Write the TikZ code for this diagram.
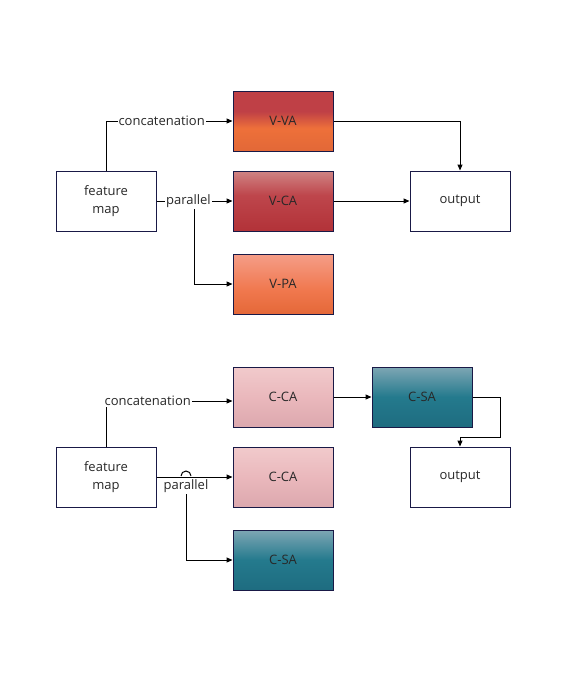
\documentclass[tikz,border=0pt]{standalone}
\usepackage{fontspec}
\setmainfont{Open Sans}
\usetikzlibrary{arrows.meta}
\definecolor{edge}{RGB}{25,25,70}
\definecolor{ink}{RGB}{40,40,40}
\definecolor{vvaT}{RGB}{191,64,70}
\definecolor{vvaM}{RGB}{238,112,58}
\definecolor{vvaB}{RGB}{226,104,55}
\definecolor{vcaT}{RGB}{208,132,132}
\definecolor{vcaM}{RGB}{190,70,76}
\definecolor{vcaB}{RGB}{178,50,56}
\definecolor{vpaT}{RGB}{245,157,136}
\definecolor{vpaM}{RGB}{240,120,78}
\definecolor{vpaB}{RGB}{228,104,56}
\definecolor{ccaT}{RGB}{241,202,204}
\definecolor{ccaM}{RGB}{234,184,188}
\definecolor{ccaB}{RGB}{220,168,174}
\definecolor{csaT}{RGB}{126,166,180}
\definecolor{csaM}{RGB}{36,122,141}
\definecolor{csaB}{RGB}{30,108,128}
\pgfdeclareverticalshading{vvashade}{100bp}{color(0bp)=(vvaB); color(25bp)=(vvaB); color(44bp)=(vvaM); color(58bp)=(vvaT); color(75bp)=(vvaT); color(100bp)=(vvaT)}
\pgfdeclareverticalshading{vcashade}{100bp}{color(0bp)=(vcaB); color(25bp)=(vcaB); color(55bp)=(vcaM); color(75bp)=(vcaT); color(100bp)=(vcaT)}
\pgfdeclareverticalshading{vpashade}{100bp}{color(0bp)=(vpaB); color(25bp)=(vpaB); color(45bp)=(vpaM); color(75bp)=(vpaT); color(100bp)=(vpaT)}
\pgfdeclareverticalshading{ccashade}{100bp}{color(0bp)=(ccaB); color(25bp)=(ccaB); color(50bp)=(ccaM); color(75bp)=(ccaT); color(100bp)=(ccaT)}
\pgfdeclareverticalshading{csashade}{100bp}{color(0bp)=(csaB); color(25bp)=(csaB); color(50bp)=(csaM); color(75bp)=(csaT); color(100bp)=(csaT)}

\begin{document}
\begin{tikzpicture}[x=1pt,y=-1pt,line width=1pt,
  font=\fontsize{13}{15}\selectfont,text=ink,
  box/.style={draw=edge,minimum width=100pt,minimum height=60pt,inner sep=0pt,align=center},
  lbl/.style={fill=white,inner sep=1pt},
  arr/.style={-{Triangle[length=6pt,width=5pt]}}]
\useasboundingbox (0,0) rectangle (567,680);
% upper block
\node[box] (fm1) at (106,201) {feature\\[3pt]map};
\node[box,shading=vvashade] (vva) at (283,121) {V-VA};
\node[box,shading=vcashade] (vca) at (283,201) {V-CA};
\node[box,shading=vpashade] (vpa) at (283,284) {V-PA};
\node[box] (out1) at (460,201) {output};
\coordinate (br1) at (194,201);
\draw[arr] (br1) |- (vpa.west);
\draw[arr] (fm1.north) |- node[lbl,pos=0.72] {concatenation} (vva.west);
\draw[arr] (fm1.east) -- node[lbl,pos=0.42] {parallel} (vca.west);
\draw[arr] (vva.east) -| (out1.north);
\draw[arr] (vca.east) -- (out1.west);
% lower block
\node[box] (fm2) at (106,477) {feature\\[3pt]map};
\node[box,shading=ccashade] (cca1) at (283,397) {C-CA};
\node[box,shading=csashade] (csa1) at (422,397) {C-SA};
\node[box,shading=ccashade] (cca2) at (283,477) {C-CA};
\node[box,shading=csashade] (csa2) at (283,560) {C-SA};
\node[box] (out2) at (460,477) {output};
\draw[arr] (fm2.north) |- node[lbl,pos=0.665] {concatenation} ([yshift=-4pt]cca1.west);
\draw[arr] (cca1.east) -- (csa1.west);
\draw[arr] (csa1.east) -| ++(28,40) -| (out2.north);
\draw[arr] (fm2.east) -- (cca2.west);
\node[lbl] (par2) at (186,486) {parallel};
\draw (181,476) arc (180:360:5);
\draw[arr] (par2.south) |- (csa2.west);
\end{tikzpicture}
\end{document}
